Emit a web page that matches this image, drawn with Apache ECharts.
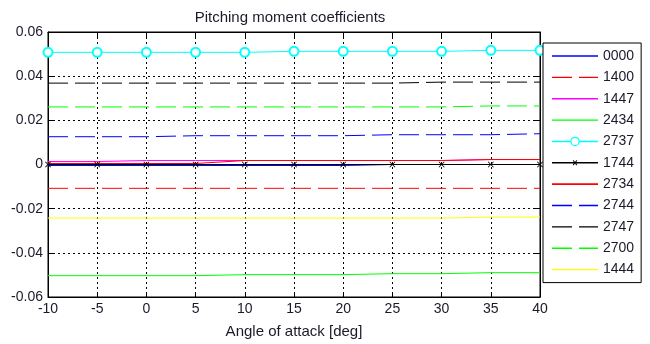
<!DOCTYPE html>
<html><head><meta charset="utf-8">
<script src="https://cdn.jsdelivr.net/npm/echarts@6/dist/echarts.min.js"></script>
<style>html,body{margin:0;padding:0;background:#fff}#c{width:650px;height:344px}</style>
</head><body><div id="c"></div>
<script>
const angles = [-10, -5, 0, 5, 10, 15, 20, 25, 30, 35, 40];
const names = ['0000','1400','1447','2434','2737','1744','2734','2744','2747','2700','1444'];
const v0000 = [-0.00045,-0.00045,-0.00045,-0.00045,-0.00045,-0.00045,-0.00045,0,0,0,0];
const v1400 = [-0.010787,-0.010787,-0.010787,-0.010787,-0.010787,-0.010787,-0.010787,-0.010787,-0.010787,-0.010787,-0.010787];
const v1447 = [0.001348,0.001348,0.001798,0.001798,0.001798,0.001798,0.001798,0.001798,0.001798,0.002247,0.002247];
const v2434 = [-0.050337,-0.050337,-0.050337,-0.050337,-0.049888,-0.049888,-0.049888,-0.049438,-0.049438,-0.048989,-0.048989];
const v2737 = [0.050787,0.050787,0.050787,0.050787,0.050787,0.051236,0.051236,0.051236,0.051236,0.051685,0.051685];
const v1744 = [0,0,0,0,0,0,0,0,0,0,0];
const v2734 = [0.000449,0.000449,0.000449,0.000449,0.001798,0.001798,0.001798,0.001798,0.001798,0.002247,0.002247];
const v2744 = [0.012584,0.012584,0.012584,0.013034,0.013034,0.013034,0.013034,0.013483,0.013483,0.013483,0.013933];
const v2747 = [0.036854,0.036854,0.036854,0.036854,0.036854,0.036854,0.036854,0.036854,0.037303,0.037303,0.037303];
const v2700 = [0.026067,0.026067,0.026067,0.026067,0.026067,0.026067,0.026067,0.026067,0.026067,0.026517,0.026517];
const v1444 = [-0.024270,-0.024270,-0.024270,-0.024270,-0.024270,-0.024270,-0.024270,-0.024270,-0.024270,-0.023820,-0.023820];
const yTicks = ['-0.06','-0.04','-0.02','0','0.02','0.04','0.06'];

const values = [v0000,v1400,v1447,v2434,v2737,v1744,v2734,v2744,v2747,v2700,v1444];
const colors = ['#0000ff','#ff0000','#ff00ff','#00ff00','#00ffff','#000000','#ff0000','#0000ff','#000000','#00ff00','#ffff00'];
const styles = ['solid','dash','solid','solid','circle','cross','thick','dash','dash','dash','solid'];
const FONT = '"Liberation Sans", Arial, sans-serif';

// legend icon shapes (46 x 10 box)
const CORNERS = 'M0,0L0.01,0L0,0.01Z M46,10L45.99,10L46,9.99Z ';
const ICONS = {
  solid: 'M0,4.3L46,4.3L46,5.7L0,5.7Z',
  thick: 'M0,4.2L46,4.2L46,5.8L0,5.8Z',
  dash: 'M0,4.3L20,4.3L20,5.7L0,5.7Z M27,4.3L46,4.3L46,5.7L27,5.7Z',
  circle: 'M0,4.3L18.5,4.3L18.5,5.7L0,5.7Z M27.5,4.3L46,4.3L46,5.7L27.5,5.7Z ' +
          'M27.7,5A4.7,4.7,0,1,1,18.3,5A4.7,4.7,0,1,1,27.7,5Z M26.5,5A3.5,3.5,0,1,0,19.5,5A3.5,3.5,0,1,0,26.5,5Z',
  cross: 'M0,4.3L46,4.3L46,5.7L0,5.7Z M20.8,3L21.5,2.3L23,4.3L24.5,2.3L25.2,3L23.6,5L25.2,7L24.5,7.7L23,5.7L21.5,7.7L20.8,7L22.4,5Z'
};

const series = names.map((n,i)=>{
  const s = styles[i];
  return {
    name:n, type:'line',
    data: angles.map((a,j)=>[a, values[i][j]]),
    symbol: s==='circle' ? 'emptyCircle' : (s==='cross' ? 'path://M0,1L1,0L5,4L9,0L10,1L6,5L10,9L9,10L5,6L1,10L0,9L4,5Z' : 'none'),
    symbolSize: s==='circle' ? 9 : 6,
    showSymbol: s==='circle' || s==='cross',
    lineStyle:{color:colors[i], width:1, type: s==='dash' ? [20,7] : 'solid'},
    itemStyle:{color:colors[i], borderColor:colors[i], borderWidth: s==='circle'?1:0},
    emphasis:{disabled:true},
    animation:false
  };
});

const legendData = names.map((n,i)=>({
  name:n,
  icon:'path://' + CORNERS + ICONS[styles[i]],
  itemStyle:{color:colors[i], borderWidth:0, opacity:1}
}));

const tickOnly = {
  axisLine:{show:true, onZero:false, lineStyle:{color:'#000'}},
  axisTick:{show:true, inside:true, length:5, lineStyle:{color:'#000'}},
  axisLabel:{show:false},
  splitLine:{show:false}
};

const chart = echarts.init(document.getElementById('c'), null, {renderer:'canvas'});
chart.setOption({
  backgroundColor:'#fff',
  animation:false,
  title:{text:'Pitching moment coefficients', left:285, top:5, textAlign:'center',
    textStyle:{fontFamily:FONT, fontSize:15, fontWeight:'normal', color:'#1a1a2a'}},
  grid:{left:48, right:110, top:32, bottom:45, show:true, borderColor:'#000', borderWidth:1, backgroundColor:'#fff'},
  legend:{
    data:legendData, orient:'vertical', left:543, top:43,
    itemWidth:46, itemHeight:10, itemGap:7.36,
    padding:[6,7,6,9],
    borderColor:'#000', borderWidth:1, backgroundColor:'#fff',
    selectedMode:false,
    textStyle:{fontFamily:FONT, fontSize:14, color:'#1a1a2a', lineHeight:14}
  },
  xAxis:[{type:'value', min:-10, max:40, interval:5,
    name:'Angle of attack [deg]', nameLocation:'middle', nameGap:27,
    nameTextStyle:{fontFamily:FONT, fontSize:15, color:'#1a1a2a'},
    axisLine:{show:true, onZero:false, lineStyle:{color:'#000'}},
    axisTick:{show:true, inside:true, length:5, lineStyle:{color:'#000'}},
    axisLabel:{fontFamily:FONT, fontSize:14, color:'#1a1a2a', margin:5},
    splitLine:{show:true, lineStyle:{color:'#000', type:[2,3], width:1}}
  },
  Object.assign({type:'value', position:'top', min:-10, max:40, interval:5}, tickOnly)],
  yAxis:[{type:'value', min:-0.06, max:0.06, interval:0.02,
    axisLine:{show:true, onZero:false, lineStyle:{color:'#000'}},
    axisTick:{show:true, inside:true, length:5, lineStyle:{color:'#000'}},
    axisLabel:{fontFamily:FONT, fontSize:14, color:'#1a1a2a', margin:5,
      formatter:(v)=>{ const i = Math.round((v+0.06)/0.02); return yTicks[i]; }},
    splitLine:{show:true, lineStyle:{color:'#000', type:[2,3], width:1}}
  },
  Object.assign({type:'value', position:'right', min:-0.06, max:0.06, interval:0.02}, tickOnly)],
  series: series
});
</script></body></html>
